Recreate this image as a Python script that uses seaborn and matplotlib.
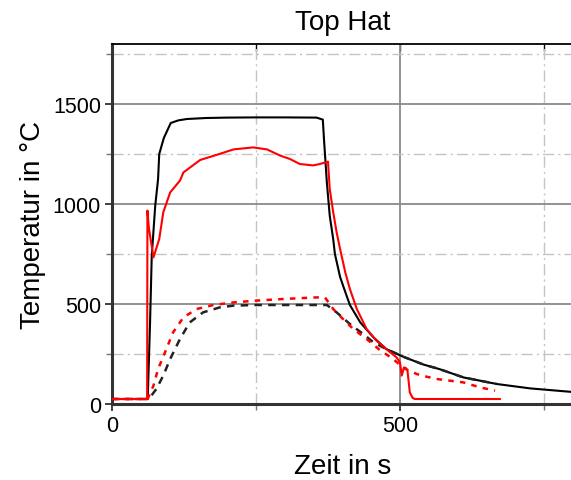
import matplotlib
matplotlib.use("Agg")
import matplotlib.pyplot as plt
from matplotlib.ticker import FixedLocator, NullFormatter
import seaborn as sns
import pandas as pd

# ---- data ----
black_solid_t = [0, 62, 66, 69, 75, 80, 82, 90, 102, 115, 130, 164, 200, 250, 300, 355, 366,
                 368, 373, 378, 384, 387, 396, 405, 413, 431, 454, 476, 506, 541, 569, 610,
                 668, 726, 800]
black_solid_T = [25, 25, 400, 740, 990, 1125, 1250, 1330, 1405, 1418, 1425, 1430, 1432, 1433,
                 1433, 1432, 1422, 1325, 1108, 942, 825, 750, 635, 560, 495, 408, 333, 275,
                 236, 197, 174, 133, 100, 78, 60]

red_solid_t = [0, 61, 61.5, 64, 72, 82, 89, 101, 118, 124, 153, 182, 211, 245, 269, 292, 309,
               326, 349, 361, 375, 378, 384, 390, 396, 405, 413, 425, 442, 459, 476, 494, 500,
               503, 507, 510, 513, 517, 522, 526, 674]
red_solid_T = [25, 25, 967, 880, 733, 825, 958, 1058, 1117, 1158, 1220, 1246, 1273, 1283, 1273,
               1242, 1225, 1200, 1193, 1200, 1212, 1075, 960, 858, 775, 658, 575, 475, 375, 317,
               275, 233, 208, 142, 183, 180, 167, 58, 30, 25, 25]

black_dash_t = [0, 62, 66, 77, 89, 101, 118, 135, 158, 187, 211, 251, 300, 373, 390, 413, 436,
                454, 476, 506, 541, 569, 610, 668]
black_dash_T = [25, 25, 33, 75, 142, 225, 325, 408, 458, 483, 492, 495, 495, 495, 458, 400, 350,
                308, 275, 236, 197, 174, 133, 100]

red_dash_t = [0, 62, 63, 72, 80, 92, 106, 124, 147, 176, 211, 251, 297, 355, 370, 384, 401, 419,
              442, 465, 488, 506, 529, 541, 564, 610, 639, 665]
red_dash_T = [25, 25, 33, 92, 175, 258, 358, 433, 475, 495, 508, 517, 525, 533, 532, 475, 425,
              375, 325, 270, 225, 180, 150, 140, 125, 108, 83, 67]

x_major = [0, 500]
x_minor = [250, 750]
y_major = [0, 500, 1000, 1500]
y_minor = [250, 750, 1250, 1750]

title = "Top Hat"
xlabel = "Zeit in s"
ylabel = "Temperatur in °C"

# ---- style ----
sns.set_style("white")
plt.rcParams["font.family"] = ["Liberation Sans", "DejaVu Sans"]
plt.rcParams["text.color"] = "black"
plt.rcParams["axes.labelcolor"] = "black"
plt.rcParams["xtick.color"] = "black"
plt.rcParams["ytick.color"] = "black"

fig = plt.figure(figsize=(5.71, 4.81), dpi=100)
ax = fig.add_axes([112 / 571, 76 / 481, 460.8 / 571, 360 / 481])

series = [
    (black_solid_t, black_solid_T, "black", "-", 1.5, None),
    (black_dash_t, black_dash_T, "#222222", "--", 1.8, (3, 2.5)),
    (red_dash_t, red_dash_T, "red", "--", 1.8, (2.2, 2.5)),
    (red_solid_t, red_solid_T, "red", "-", 1.5, None),
]
for t, T, c, ls, lw, dash in series:
    df = pd.DataFrame({"t": t, "T": T})
    sns.lineplot(data=df, x="t", y="T", ax=ax, color=c, linewidth=lw,
                 estimator=None, sort=False)
    l = ax.get_lines()[-1]
    if dash is not None:
        l.set_dashes(dash)
    l.set_zorder(3)

ax.set_xlim(0, 800)
ax.set_ylim(0, 1800)

ax.xaxis.set_major_locator(FixedLocator(x_major))
ax.xaxis.set_minor_locator(FixedLocator(x_minor))
ax.yaxis.set_major_locator(FixedLocator(y_major))
ax.yaxis.set_minor_locator(FixedLocator(y_minor))
ax.xaxis.set_minor_formatter(NullFormatter())
ax.yaxis.set_minor_formatter(NullFormatter())

ax.grid(True, which="major", color="#8a8a8a", linewidth=1.3, linestyle="-", zorder=0)
ax.grid(True, which="minor", color="#c4c4c4", linewidth=1.0,
        linestyle=(0, (8, 3, 1.5, 3)), zorder=0)
ax.set_axisbelow(True)

ax.tick_params(axis="both", which="major", direction="out", length=5, width=1.3,
               color="#333333", labelsize=15.5, pad=3, bottom=True, left=True,
               labelcolor="black")
ax.tick_params(axis="both", which="minor", direction="out", length=4, width=1.0,
               color="#777777", bottom=True, left=True)

for s in ["left", "bottom"]:
    ax.spines[s].set_color("#333333")
    ax.spines[s].set_linewidth(2.2)
ax.spines["top"].set_color("black")
ax.spines["top"].set_linewidth(1.3)
ax.spines["right"].set_visible(False)

# inward ticks on top spine
sec = ax.secondary_xaxis("top")
sec.xaxis.set_major_locator(FixedLocator(x_major + x_minor))
sec.tick_params(direction="in", length=5, width=1.0, labeltop=False, color="black")
sec.spines["top"].set_visible(False)

ax.set_title(title, fontsize=20, pad=11, color="black")
ax.set_xlabel(xlabel, fontsize=20, labelpad=12, color="black")
ax.set_ylabel(ylabel, fontsize=20, labelpad=5, color="black")

fig.savefig("out.png", dpi=100)
